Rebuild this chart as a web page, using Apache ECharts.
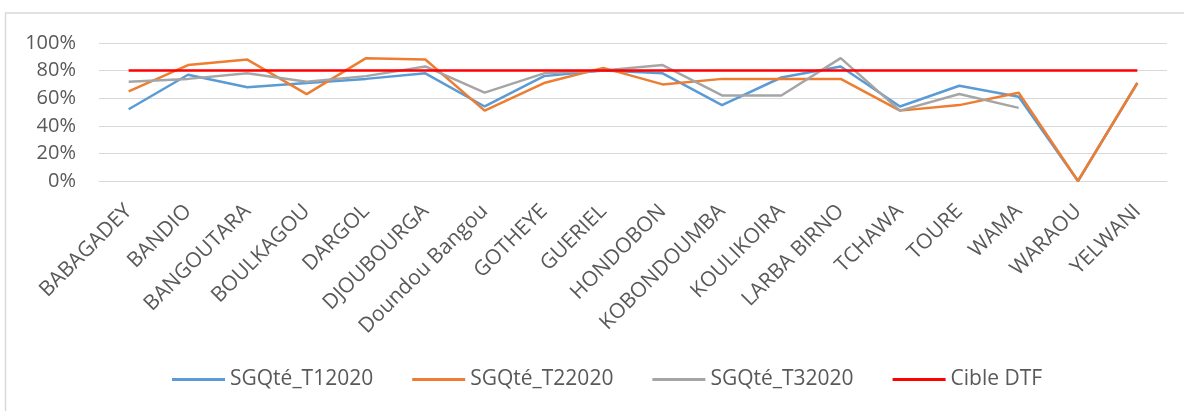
<!DOCTYPE html>
<html>
<head>
<meta charset="utf-8">
<script src="https://cdn.jsdelivr.net/npm/echarts@6/dist/echarts.min.js"></script>
<style>
    html, body { margin: 0; padding: 0; background: #fff; }
    #chart { width: 1184px; height: 411px; }
</style>
</head>
<body>
<div id="chart"></div>
<script>
// données
const communes = ['BABAGADEY', 'BANDIO', 'BANGOUTARA', 'BOULKAGOU', 'DARGOL', 'DJOUBOURGA', 'Doundou Bangou', 'GOTHEYE', 'GUERIEL',
    'HONDOBON', 'KOBONDOUMBA', 'KOULIKOIRA', 'LARBA BIRNO', 'TCHAWA', 'TOURE', 'WAMA', 'WARAOU', 'YELWANI'];
const sgqT1 = [52, 77, 68, 71, 74, 78, 54, 76, 80, 78, 55, 75, 83, 54, 69, 61, 0, 71];
const sgqT2 = [65, 84, 88, 63, 89, 88, 51, 71, 82, 70, 74, 74, 74, 51, 55, 64, 0, 71];
const sgqT3 = [72, 74, 78, 72, 76, 83, 64, 78, 80, 84, 62, 62, 89, 51, 63, 53, null, null];
const cible = [80, 80, 80, 80, 80, 80, 80, 80, 80, 80, 80, 80, 80, 80, 80, 80, 80, 80];
const yTicks = [0, 20, 40, 60, 80, 100];

const chart = echarts.init(document.getElementById('chart'));

function lineSerie(name, data, color) {
    return {
        name: name,
        type: 'line',
        data: data,
        symbol: 'none',
        showSymbol: false,
        connectNulls: false,
        lineStyle: { color: color, width: 2.5 },
        itemStyle: { color: color }
    };
}

const option = {
    animation: false,
    graphic: [{
        type: 'rect',
        shape: { x: 5.5, y: 13, width: 1200, height: 420 },
        style: { fill: 'none', stroke: '#d9d9d9', lineWidth: 1.5 },
        silent: true
    }],
    grid: {
        left: 99,
        right: 17,
        top: 43,
        bottom: 230
    },
    legend: {
        left: 167,
        top: 364,
        icon: 'rect',
        itemWidth: 53,
        itemHeight: 3,
        itemGap: 39,
        textStyle: {
            fontFamily: 'Open Sans',
            fontSize: 21,
            color: '#595959'
        },
        data: ['SGQté_T12020', 'SGQté_T22020', 'SGQté_T32020', 'Cible DTF']
    },
    xAxis: {
        type: 'category',
        data: communes,
        axisLine: { show: true, lineStyle: { color: '#d9d9d9', width: 1 } },
        axisTick: { show: false },
        axisLabel: {
            interval: 0,
            rotate: 45,
            margin: 27,
            fontFamily: 'Open Sans',
            fontSize: 21,
            color: '#595959'
        }
    },
    yAxis: {
        type: 'value',
        min: yTicks[0],
        max: yTicks[yTicks.length - 1],
        interval: 20,
        axisLine: { show: false },
        axisTick: { show: false },
        splitLine: { lineStyle: { color: '#d9d9d9', width: 1 } },
        axisLabel: {
            formatter: '{value}%',
            margin: 23,
            fontFamily: 'Open Sans',
            fontSize: 20,
            color: '#595959'
        }
    },
    series: [
        lineSerie('SGQté_T12020', sgqT1, '#5B9BD5'),
        lineSerie('SGQté_T22020', sgqT2, '#ED7D31'),
        lineSerie('SGQté_T32020', sgqT3, '#A5A5A5'),
        lineSerie('Cible DTF', cible, '#FF0000')
    ]
};

chart.setOption(option);
</script>
</body>
</html>
